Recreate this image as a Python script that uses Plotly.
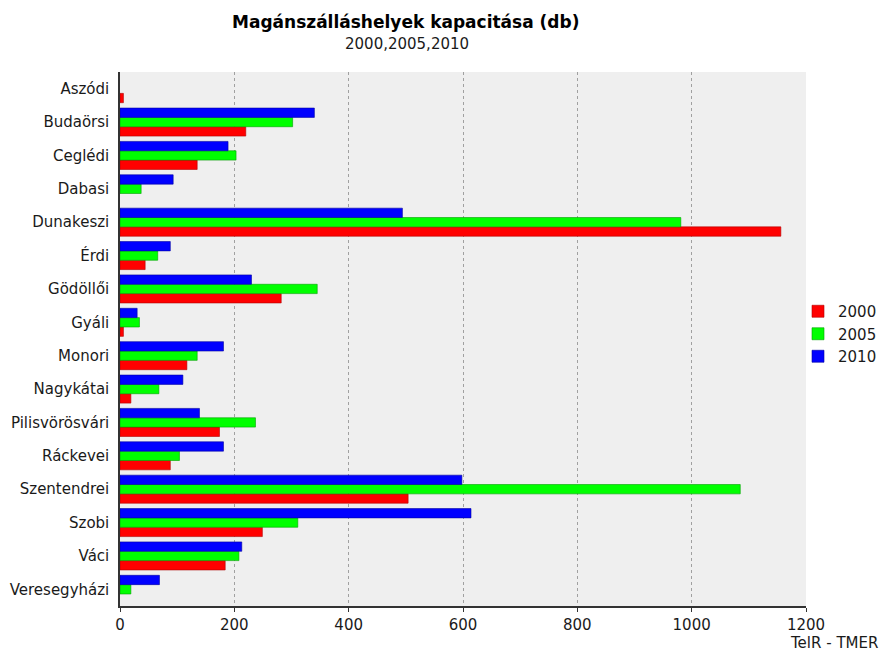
import plotly.graph_objects as go

categories = ["Aszódi", "Budaörsi", "Ceglédi", "Dabasi", "Dunakeszi", "Érdi", "Gödöllői",
              "Gyáli", "Monori", "Nagykátai", "Pilisvörösvári", "Ráckevei", "Szentendrei",
              "Szobi", "Váci", "Veresegyházi"]
v2000 = [6, 220, 135, None, 1156, 44, 282, 6, 117, 19, 174, 88, 504, 249, 184, None]
v2005 = [None, 302, 203, 37, 981, 66, 345, 34, 135, 68, 237, 104, 1085, 311, 208, 19]
v2010 = [None, 340, 189, 93, 494, 88, 230, 30, 181, 110, 139, 181, 598, 614, 213, 69]
series_names = ["2000", "2005", "2010"]
series_colors = ["#ff0000", "#00ff00", "#0000ff"]
edge_colors = ["#b00000", "#00a000", "#0000a0"]
x_ticks = [0, 200, 400, 600, 800, 1000, 1200]

FONT = "DejaVu Sans"
TXT = "#1a1a1a"
W, H = 883, 655
L, R, T, B = 120, 806, 72, 606  # plot area in page pixels
PW, PH = R - L, B - T


def px(x):
    return (x - L) / PW


def py(y):
    return (B - y) / PH


fig = go.Figure()
for name, vals, col, edge in zip(series_names, [v2000, v2005, v2010], series_colors, edge_colors):
    fig.add_trace(go.Bar(
        y=categories, x=vals, name=name, orientation="h",
        marker=dict(color=col, line=dict(color=edge, width=0.6)),
    ))

fig.update_layout(
    width=W, height=H,
    margin=dict(l=L, r=W - R, t=T, b=H - B, autoexpand=False),
    paper_bgcolor="white", plot_bgcolor="#efefef",
    barmode="group", bargap=0.16, bargroupgap=0,
    font=dict(family=FONT, size=15, color=TXT),
    showlegend=True,
    legend=dict(x=798 / W, xanchor="left", xref="container",
                y=1 - 334 / H, yanchor="middle", yref="container",
                font=dict(size=15, family=FONT, color=TXT),
                itemwidth=30, tracegroupgap=0, bgcolor="rgba(0,0,0,0)"),
    xaxis=dict(range=[0, 1200], tickvals=x_ticks, ticks="outside", ticklen=4,
               tickcolor="#333333", showline=True, linecolor="#333333", linewidth=1.5,
               showgrid=True, gridcolor="#a0a0a0", griddash="dot", gridwidth=1,
               zeroline=False, automargin=False,
               tickfont=dict(size=15, family=FONT, color=TXT)),
    yaxis=dict(categoryorder="array", categoryarray=categories[::-1],
               showline=True, linecolor="#333333", linewidth=1.5, ticks="",
               showgrid=False, zeroline=False, ticklabelstandoff=6, automargin=False,
               tickfont=dict(size=15, family=FONT, color=TXT)),
    annotations=[
        dict(text="<b>Magánszálláshelyek kapacitása (db)</b>", xref="paper", yref="paper",
             x=px(405), y=py(22), xanchor="center", yanchor="middle",
             showarrow=False, font=dict(size=17, family=FONT, color="#000000")),
        dict(text="2000,2005,2010", xref="paper", yref="paper",
             x=px(407), y=py(44), xanchor="center", yanchor="middle",
             showarrow=False, font=dict(size=15, family=FONT, color=TXT)),
        dict(text="TelR - TMER", xref="paper", yref="paper",
             x=px(880), y=py(643), xanchor="right", yanchor="middle",
             showarrow=False, font=dict(size=15, family=FONT, color=TXT)),
    ],
)

fig.write_html("out.html", config={"displayModeBar": False},
               post_script="document.body.style.margin='0';document.body.style.overflow='hidden';")
